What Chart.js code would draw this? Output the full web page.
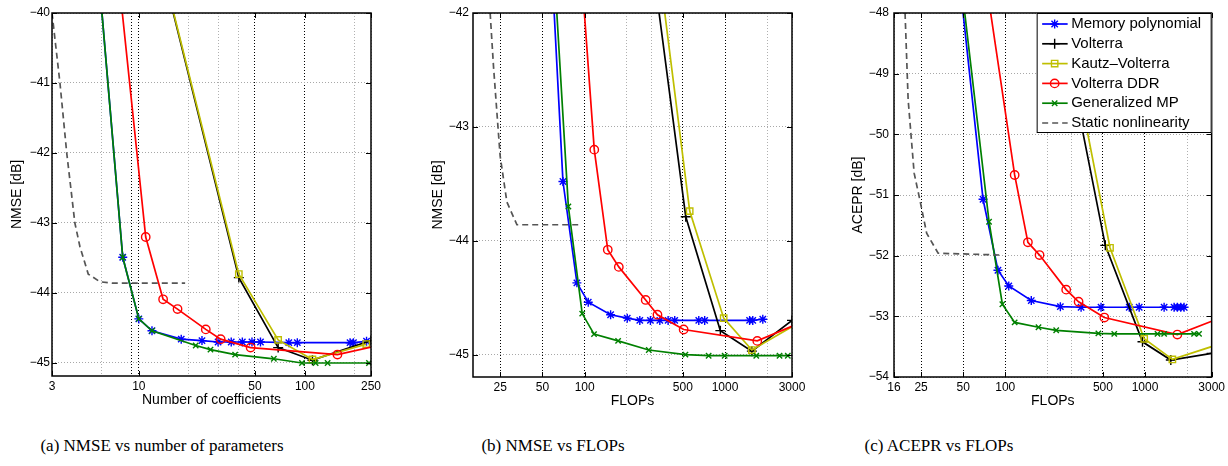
<!DOCTYPE html>
<html>
<head>
<meta charset="utf-8">
<script src="https://cdn.jsdelivr.net/npm/chart.js@4.4.1/dist/chart.umd.min.js"></script>
<style>
    body { margin: 0; background: #fff; width: 1228px; height: 466px; position: relative; overflow: hidden; }
    canvas { position: absolute; top: 0; }
    .cap { position: absolute; top: 436px; width: 400px; text-align: center; font-family: 'Liberation Serif', 'Times New Roman', serif; font-size: 17px; line-height: 20px; color: #000; }
</style>
</head>
<body>
<canvas id="plotA" width="396" height="420" style="left:0px"></canvas>
<canvas id="plotB" width="397" height="420" style="left:420px"></canvas>
<canvas id="plotC" width="388" height="420" style="left:840px"></canvas>
<div class="cap" style="left:-38px">(a) NMSE vs number of parameters</div>
<div class="cap" style="left:353px">(b) NMSE vs FLOPs</div>
<div class="cap" style="left:739px">(c) ACEPR vs FLOPs</div>
<script>
// (a) NMSE vs number of coefficients
const aMemPolyX = [5, 8, 10, 12, 18, 24, 30, 36, 42, 48, 54, 80, 90, 187, 196, 235];
const aMemPolyY = [-37.8, -43.49, -44.37, -44.54, -44.66, -44.68, -44.70, -44.70, -44.70, -44.70, -44.70, -44.71, -44.71, -44.71, -44.71, -44.69];
const aVolterraX = [15, 40, 69, 111, 250];
const aVolterraY = [-39.70, -43.78, -44.78, -44.96, -44.68];
const aKautzX = [15, 40, 69, 111, 234];
const aKautzY = [-39.68, -43.73, -44.67, -44.95, -44.73];
const aDdrX = [7, 11, 14, 17.1, 25.3, 31.1, 47.1, 157, 300];
const aDdrY = [-38.74, -43.2, -44.09, -44.23, -44.52, -44.66, -44.78, -44.88, -44.73];
const aGmpX = [5, 8, 10, 12, 22, 27, 38, 65, 96, 116, 137, 243];
const aGmpY = [-37.8, -43.49, -44.37, -44.54, -44.75, -44.81, -44.88, -44.94, -45.0, -45.0, -45.0, -45.0];
const aStaticX = [3, 3.35, 3.68, 4.12, 4.42, 4.96, 5.83, 7, 10, 19];
const aStaticY = [-40.0, -41.0, -42.0, -43.0, -43.34, -43.73, -43.84, -43.86, -43.86, -43.86];

// (b) NMSE vs FLOPs
const bMemPolyX = [55, 70, 88, 106, 153, 201, 247, 294, 343, 393, 438, 650, 716, 1496, 1576, 1858];
const bMemPolyY = [-41.0, -43.48, -44.37, -44.54, -44.65, -44.68, -44.70, -44.70, -44.70, -44.70, -44.70, -44.70, -44.70, -44.70, -44.70, -44.69];
const bVolterraX = [300, 525, 926, 1553, 3000];
const bVolterraY = [-41.5, -43.79, -44.79, -44.97, -44.70];
const bKautzX = [320, 560, 978, 1553, 3600];
const bKautzY = [-41.36, -43.74, -44.68, -44.96, -44.70];
const bDdrX = [95, 117, 146, 175, 272, 330, 507, 1697, 3600];
const bDdrY = [-41.66, -43.20, -44.08, -44.23, -44.52, -44.65, -44.78, -44.88, -44.71];
const bGmpX = [55, 76.5, 96, 116.5, 173, 286, 522, 764, 994, 1669, 2445, 2800];
const bGmpY = [-40.74, -43.70, -44.64, -44.82, -44.88, -44.96, -45.0, -45.01, -45.01, -45.01, -45.01, -45.01];
const bStaticX = [21.2, 22.4, 24.1, 25, 27.9, 32.9, 95];
const bStaticY = [-42.0, -42.47, -43.0, -43.26, -43.66, -43.86, -43.86];

// (c) ACEPR vs FLOPs
const cMemPolyX = [45, 69.4, 88.7, 106, 153.6, 248, 349, 485, 772, 909, 1371, 1616, 1705, 1803, 1904];
const cMemPolyY = [-47.03, -51.07, -52.24, -52.50, -52.74, -52.84, -52.85, -52.85, -52.85, -52.85, -52.85, -52.85, -52.85, -52.85, -52.85];
const cVolterraX = [200, 520, 960, 1531, 3000];
const cVolterraY = [-47.01, -51.83, -53.42, -53.72, -53.61];
const cKautzX = [210, 562, 987, 1571, 3600];
const cKautzY = [-46.82, -51.87, -53.37, -53.71, -53.44];
const cDdrX = [70, 116.8, 145.3, 176, 273, 335, 512, 1705, 3600];
const cDdrY = [-47.21, -50.67, -51.78, -51.99, -52.56, -52.76, -53.02, -53.30, -53.01];
const cGmpX = [45, 76.6, 95.4, 116.8, 173, 231.6, 464, 603, 1229, 1371, 2245, 2437];
const cGmpY = [-46.87, -51.44, -52.80, -53.10, -53.18, -53.23, -53.28, -53.29, -53.29, -53.29, -53.29, -53.29];
const cStaticX = [19.2, 20.2, 22.3, 24.5, 27.4, 33.1, 94];
const cStaticY = [-48.0, -49.43, -50.64, -51.08, -51.63, -51.96, -51.99];

// Axis ticks
const aXLabels = [3, 10, 50, 100, 250];
const aXBlackGrid = [9, 10, 50, 100];
const aXGrayGrid = [6, 20, 30, 40, 200];
const aYTicks = [-45, -44, -43, -42, -41, -40];

const bXLabels = [25, 50, 100, 500, 1000, 3000];
const cXLabels = [16, 25, 50, 100, 500, 1000, 3000];
const flopsBlackGrid = [25, 50, 100, 500, 1000];
const flopsGrayGrid = [200, 300, 400, 2000];
const bYTicks = [-45, -44, -43, -42];
const cYTicks = [-54, -53, -52, -51, -50, -49, -48];

// Series look (MATLAB style)
const seriesStyle = [
    { label: 'Memory polynomial', color: '#0000ff', point: 'star', radius: 4.5 },
    { label: 'Volterra', color: '#000000', point: 'cross', radius: 5 },
    { label: 'Kautz\u2013Volterra', color: '#bfbf00', point: 'rect', radius: 4.5 },
    { label: 'Volterra DDR', color: '#ff0000', point: 'circle', radius: 4.2 },
    { label: 'Generalized MP', color: '#008000', point: 'crossRot', radius: 3.8 },
    { label: 'Static nonlinearity', color: '#555555', point: false, radius: 0, dash: [6, 4] }
];

Chart.defaults.font.family = '"Liberation Sans", Arial, Helvetica, sans-serif';
Chart.defaults.font.size = 12;
Chart.defaults.color = '#000';

function seriesPoints(xs, ys) {
    return xs.map((x, i) => ({ x: x, y: ys[i] }));
}

function buildDatasets(pairs) {
    return pairs.map((p, i) => {
        const s = seriesStyle[i];
        return {
            label: s.label,
            data: seriesPoints(p[0], p[1]),
            borderColor: s.color,
            backgroundColor: s.color,
            borderWidth: 1.7,
            borderDash: s.dash || [],
            pointStyle: s.point,
            pointRadius: s.radius,
            pointHoverRadius: s.radius,
            pointBorderColor: s.color,
            pointBackgroundColor: 'rgba(0,0,0,0)',
            pointBorderWidth: 1.4,
            tension: 0,
            order: 6 - i
        };
    });
}

// axes box + inner tick marks
const framePlugin = {
    id: 'frame',
    afterDraw(chart, args, opts) {
        const { ctx, chartArea: a, scales } = chart;
        ctx.save();
        ctx.setLineDash([]);
        ctx.strokeStyle = '#000';
        ctx.lineWidth = 1;
        ctx.beginPath();
        opts.xMajor.forEach(v => {
            const px = Math.round(scales.x.getPixelForValue(v)) + 0.5;
            ctx.moveTo(px, a.bottom); ctx.lineTo(px, a.bottom - 5);
            ctx.moveTo(px, a.top); ctx.lineTo(px, a.top + 5);
        });
        scales.y.ticks.forEach(t => {
            const py = Math.round(scales.y.getPixelForValue(t.value)) + 0.5;
            ctx.moveTo(a.left, py); ctx.lineTo(a.left + 5, py);
            ctx.moveTo(a.right, py); ctx.lineTo(a.right - 5, py);
        });
        ctx.stroke();
        ctx.lineWidth = 1.5;
        ctx.strokeRect(a.left, a.top, a.right - a.left, a.bottom - a.top);
        ctx.restore();
    }
};

function drawMarker(ctx, style, r, x, y) {
    ctx.beginPath();
    if (style === 'circle') {
        ctx.arc(x, y, r, 0, Math.PI * 2);
    } else if (style === 'rect') {
        const s = r * Math.SQRT1_2;
        ctx.rect(x - s, y - s, 2 * s, 2 * s);
    } else {
        const d = r * Math.SQRT1_2;
        if (style === 'cross' || style === 'star') {
            ctx.moveTo(x - r, y); ctx.lineTo(x + r, y);
            ctx.moveTo(x, y - r); ctx.lineTo(x, y + r);
        }
        if (style === 'crossRot' || style === 'star') {
            ctx.moveTo(x - d, y - d); ctx.lineTo(x + d, y + d);
            ctx.moveTo(x - d, y + d); ctx.lineTo(x + d, y - d);
        }
    }
    ctx.stroke();
}

// boxed legend in the top right corner of the plot
const boxLegend = {
    id: 'boxLegend',
    afterDraw(chart) {
        const { ctx, chartArea: a } = chart;
        const w = 175, h = 120, rowH = 19.8;
        const x0 = a.right - w, y0 = a.top;
        ctx.save();
        ctx.fillStyle = '#fff';
        ctx.fillRect(x0, y0, w, h);
        ctx.strokeStyle = '#000';
        ctx.lineWidth = 1;
        ctx.setLineDash([]);
        ctx.strokeRect(x0 + 0.5, y0 + 0.5, w - 1, h - 1);
        ctx.font = '15px "Liberation Sans", Arial, sans-serif';
        ctx.textBaseline = 'middle';
        chart.data.datasets.forEach((ds, i) => {
            const y = y0 + 11 + i * rowH;
            ctx.strokeStyle = ds.borderColor;
            ctx.lineWidth = 1.7;
            ctx.setLineDash(ds.borderDash);
            ctx.beginPath();
            ctx.moveTo(x0 + 5.5, y);
            ctx.lineTo(x0 + 31, y);
            ctx.stroke();
            ctx.setLineDash([]);
            if (ds.pointStyle) {
                ctx.lineWidth = 1.4;
                drawMarker(ctx, ds.pointStyle, ds.pointRadius, x0 + 18, y);
            }
            ctx.fillStyle = '#000';
            ctx.fillText(ds.label, x0 + 34.5, y);
        });
        ctx.restore();
    }
};

function makeChart(id, datasets, cfg) {
    const xGrid = cfg.xLabels.concat(cfg.xBlack, cfg.xGray)
        .filter((v, i, arr) => arr.indexOf(v) === i)
        .sort((p, q) => p - q);
    return new Chart(document.getElementById(id), {
        type: 'line',
        data: { datasets: datasets },
        options: {
            responsive: false,
            animation: false,
            layout: { padding: { left: 0, top: 13, right: cfg.padRight, bottom: cfg.padBottom } },
            plugins: {
                legend: { display: false },
                tooltip: { enabled: false },
                frame: { xMajor: cfg.xLabels }
            },
            scales: {
                x: {
                    type: 'logarithmic',
                    min: cfg.xMin,
                    max: cfg.xMax,
                    afterBuildTicks: s => { s.ticks = xGrid.map(v => ({ value: v })); },
                    afterFit: s => { s.height = 33; },
                    ticks: {
                        autoSkip: false,
                        maxRotation: 0,
                        padding: 3,
                        color: '#000',
                        font: { size: 12 },
                        callback: v => cfg.xLabels.includes(v) ? String(v) : ''
                    },
                    grid: {
                        drawTicks: false,
                        lineWidth: 1,
                        color: c => (c.tick && cfg.xBlack.includes(c.tick.value)) ? '#000' : '#b0b0b0'
                    },
                    border: { display: false, dash: [1, 2] },
                    title: {
                        display: true,
                        text: cfg.xTitle,
                        color: '#000',
                        font: { size: 14 },
                        padding: { top: 0, bottom: 0 }
                    }
                },
                y: {
                    type: 'linear',
                    min: cfg.yMin,
                    max: cfg.yMax,
                    afterBuildTicks: s => { s.ticks = cfg.yTicks.map(v => ({ value: v })); },
                    afterFit: s => { s.width = cfg.yWidth; },
                    ticks: {
                        padding: cfg.yPad,
                        color: '#000',
                        font: { size: 12 },
                        callback: v => (v < 0 ? '\u2212' : '') + Math.abs(v)
                    },
                    grid: { drawTicks: false, lineWidth: 1, color: '#a8a8a8' },
                    border: { display: false, dash: [1, 2] },
                    title: {
                        display: true,
                        text: cfg.yTitle,
                        color: '#000',
                        font: { size: 14 },
                        padding: { top: cfg.yTitlePad, bottom: 0 }
                    }
                }
            }
        },
        plugins: cfg.legend ? [framePlugin, boxLegend] : [framePlugin]
    });
}

makeChart('plotA', buildDatasets([
    [aMemPolyX, aMemPolyY], [aVolterraX, aVolterraY], [aKautzX, aKautzY],
    [aDdrX, aDdrY], [aGmpX, aGmpY], [aStaticX, aStaticY]
]), {
    xMin: 3, xMax: 250, yMin: -45.186, yMax: -40,
    xLabels: aXLabels, xBlack: aXBlackGrid, xGray: aXGrayGrid, yTicks: aYTicks,
    xTitle: 'Number of coefficients', yTitle: 'NMSE [dB]',
    yWidth: 52, yPad: 2, yTitlePad: 9, padRight: 25, padBottom: 11
});

makeChart('plotB', buildDatasets([
    [bMemPolyX, bMemPolyY], [bVolterraX, bVolterraY], [bKautzX, bKautzY],
    [bDdrX, bDdrY], [bGmpX, bGmpY], [bStaticX, bStaticY]
]), {
    xMin: 16, xMax: 3000, yMin: -45.197, yMax: -42,
    xLabels: bXLabels, xBlack: flopsBlackGrid, xGray: flopsGrayGrid, yTicks: bYTicks,
    xTitle: 'FLOPs', yTitle: 'NMSE [dB]',
    yWidth: 53, yPad: 4, yTitlePad: 10, padRight: 25, padBottom: 10
});

makeChart('plotC', buildDatasets([
    [cMemPolyX, cMemPolyY], [cVolterraX, cVolterraY], [cKautzX, cKautzY],
    [cDdrX, cDdrY], [cGmpX, cGmpY], [cStaticX, cStaticY]
]), {
    xMin: 16, xMax: 3000, yMin: -54, yMax: -48,
    xLabels: cXLabels, xBlack: flopsBlackGrid, xGray: flopsGrayGrid, yTicks: cYTicks,
    xTitle: 'FLOPs', yTitle: 'ACEPR [dB]',
    yWidth: 54, yPad: 5, yTitlePad: 10, padRight: 16, padBottom: 10,
    legend: true
});
</script>
</body>
</html>
